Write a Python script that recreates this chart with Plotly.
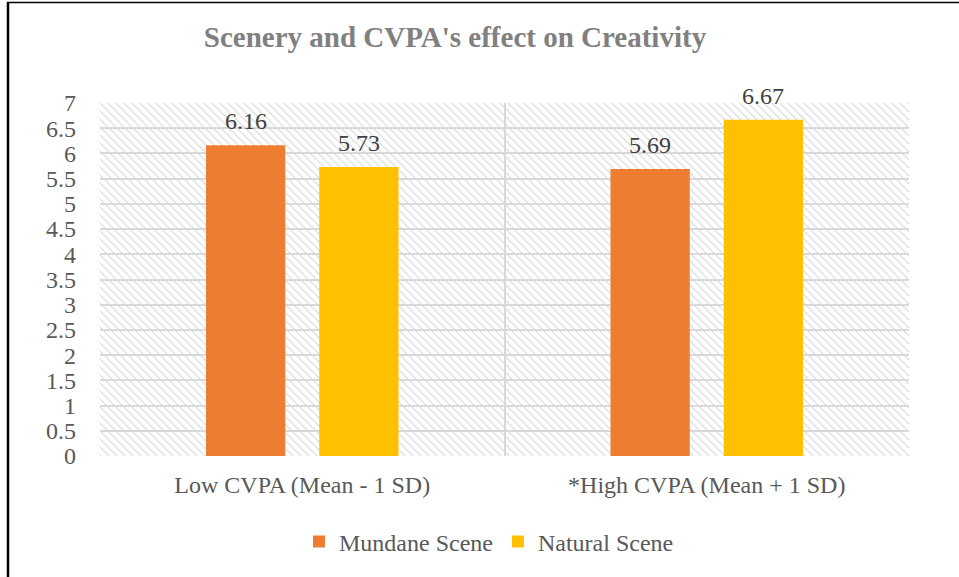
import base64
import plotly.graph_objects as go

categories = ["Low CVPA (Mean - 1 SD)", "*High CVPA (Mean + 1 SD)"]
mundane = [6.16, 5.69]
natural = [5.73, 6.67]
series_names = ["Mundane Scene", "Natural Scene"]
colors = ["#ED7D31", "#FFC000"]

W, H = 959, 577
ML, MR, MT, MB = 100, 50, 103, 121
PW, PH = W - ML - MR, H - MT - MB
BARGAP, GROUPGAP = 0.44, 0.30

FONT = "Liberation Serif"
FS = 24

series = [mundane, natural]
fig = go.Figure()
for name, vals, col in zip(series_names, series, colors):
    fig.add_trace(go.Bar(
        x=categories, y=vals, name=name,
        marker=dict(color=col, line=dict(width=0)),
    ))

# data labels, placed over each bar of the group
slot = PW / len(categories) * (1 - BARGAP) / len(series)
annotations = []
for i, vals in enumerate(series):
    offset = (i - (len(series) - 1) / 2) * slot
    for c, v in zip(categories, vals):
        annotations.append(dict(
            x=c, y=v, xref="x", yref="y", text=f"{v:.2f}",
            showarrow=False, xshift=offset, yshift=24, yanchor="middle",
            font=dict(family=FONT, size=FS, color="#404040")))

svg = (f"<svg xmlns='http://www.w3.org/2000/svg' width='{PW}' height='{PH}'>"
       "<defs><pattern id='p' width='8' height='8' patternUnits='userSpaceOnUse'>"
       "<path d='M-2,-2 L10,10 M-2,6 L2,10 M6,-2 L10,2' stroke='#d9d9d9' stroke-width='1.1'/>"
       "</pattern></defs><rect width='100%' height='100%' fill='white'/>"
       "<rect width='100%' height='100%' fill='url(#p)'/></svg>")
src = "data:image/svg+xml;base64," + base64.b64encode(svg.encode()).decode()

def px_x(px):
    return (px - ML) / PW

def px_y(py):
    return (H - MB - py) / PH

fig.update_layout(
    width=W, height=H,
    margin=dict(l=ML, r=MR, t=MT, b=MB),
    paper_bgcolor="white", plot_bgcolor="rgba(0,0,0,0)",
    barmode="group", bargap=BARGAP, bargroupgap=GROUPGAP,
    title=dict(text="<b>Scenery and CVPA's effect on Creativity</b>",
               x=455 / W, xanchor="center", xref="container",
               y=1 - 37 / H, yanchor="middle", yref="container",
               font=dict(family=FONT, size=29, color="#808080")),
    font=dict(family=FONT, size=FS, color="#595959"),
    legend=dict(orientation="h", x=px_x(489), xanchor="center",
                y=px_y(542), yanchor="middle", itemwidth=30,
                font=dict(family=FONT, size=FS, color="#595959")),
    xaxis=dict(showgrid=True, gridcolor="#d9d9d9", gridwidth=2,
               tickson="boundaries", ticks="", showline=False,
               zeroline=False, ticklabelstandoff=12,
               tickfont=dict(family=FONT, size=FS, color="#595959")),
    yaxis=dict(range=[0, 7], dtick=0.5, tick0=0, showgrid=True,
               gridcolor="#d9d9d9", gridwidth=2, zeroline=False,
               showline=False, ticks="", ticklabelstandoff=23,
               tickfont=dict(family=FONT, size=FS, color="#595959")),
    annotations=annotations,
    images=[dict(source=src, xref="paper", yref="paper", x=0, y=1,
                 sizex=1, sizey=1, sizing="stretch", layer="below",
                 xanchor="left", yanchor="top")],
    shapes=[
        dict(type="line", xref="paper", yref="paper",
             x0=px_x(8), x1=px_x(8), y0=px_y(2), y1=px_y(H + 5),
             line=dict(color="black", width=2.5)),
        dict(type="line", xref="paper", yref="paper",
             x0=px_x(7), x1=px_x(W + 5), y0=px_y(2.5), y1=px_y(2.5),
             line=dict(color="black", width=1.5)),
    ],
)

fig.write_html("out.html", config={"displayModeBar": False},
               post_script="document.body.style.margin='0';document.body.style.overflow='hidden';")
